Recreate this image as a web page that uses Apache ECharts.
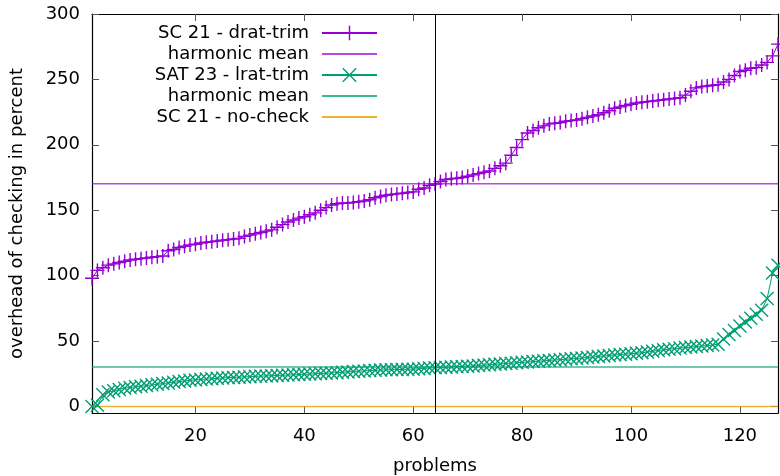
<!DOCTYPE html>
<html><head><meta charset="utf-8">
<script src="https://cdn.jsdelivr.net/npm/echarts@6/dist/echarts.min.js"></script>
<style>html,body{margin:0;padding:0;background:#fff}#c{width:780px;height:476px}</style>
</head><body><div id="c"></div>
<script>
// ---- data ----
const dratTrim = [
 98,104,106,108,109,110,111,112,112.5,113,113.5,114,114.5,115,119,120,121.5,122.5,123.5,124,
 125,125.5,126,126.5,127,127.5,128,128.5,130,131,132,133,134,135,137,139,141,142.5,144,145,
 146.5,148,150,152,154,155,155.5,155.5,156,156.5,157,158,159.5,160.5,161.5,162,162.5,163,163.5,164,
 166,167,169,170,172,173.5,174,174.5,175,176,177,178,179,180,182,184,186,192,198,204,
 209,211,213,214.5,216,216.5,217,218,218.5,219,220,221,222,223,224.5,226,228,229,230,231,
 232,232.5,233,233.5,234,234.5,235,235.5,236,238,241,243.5,244.5,245,245.5,246,248,250,253,256,
 257,258.5,259,261,263,268,277
];
const lratTrim = [
 0,1,9,11,12,13,14,14.5,15,15.5,16,16.5,17,17.5,18,18.5,19,19.5,20,20.3,
 20.6,20.9,21.2,21.5,21.8,22,22.2,22.4,22.6,22.8,23,23.2,23.3,23.5,23.7,23.9,24,24.2,24.4,24.6,
 24.8,25,25.2,25.4,25.6,25.8,26.1,26.4,26.7,27,27.2,27.4,27.6,27.8,28,28.1,28.2,28.3,28.4,28.5,
 28.8,29.1,29.4,29.6,29.8,30,30.2,30.4,30.6,30.8,31,31.3,31.6,31.9,32.2,32.5,32.8,33.1,33.4,33.7,
 34,34.3,34.6,34.9,35.2,35.5,35.8,36.1,36.4,36.7,37,37.4,37.8,38.2,38.6,39,39.4,39.7,40,40.3,
 40.7,41.1,41.6,42.2,42.8,43.3,43.8,44.2,44.6,45,45.4,45.8,46.2,46.6,47,47.6,51.5,55,58,61.5,
 64.5,67.5,70.5,73.5,82.5,102,108
];
const hmDrat = 170.2;
const hmLrat = 30.2;
const noCheckX = [1, 127];
const noCheckY = [0, 0];
const medianX = 64;
const xTicks = [20, 40, 60, 80, 100, 120];
const yTicks = [0, 50, 100, 150, 200, 250, 300];
const names = ['SC 21 - drat-trim', 'harmonic mean', 'SAT 23 - lrat-trim', 'harmonic mean', 'SC 21 - no-check'];

// ---- chart ----
const FONT = 'DejaVu Sans';
const FS = 18;
const PURPLE = '#9400d3', GREEN = '#009e73';
const PLUS = 'path://M-1,-10 L1,-10 L1,10 L-1,10 Z M-10,-1 L10,-1 L10,1 L-10,1 Z';
const CROSS = 'path://M-10,-8.6 L-8.6,-10 L10,8.6 L8.6,10 Z M8.6,-10 L10,-8.6 L-8.6,10 L-10,8.6 Z';
const toXY = arr => arr.map((v, i) => [i + 1, v]);

const baseX = {type:'value', min:1, max:127, splitLine:{show:false},
  axisLine:{show:true, onZero:false, lineStyle:{color:'#000', width:1.2}},
  axisTick:{show:true, inside:true, length:7, customValues:xTicks, lineStyle:{color:'#555', width:1}}};
const baseY = {type:'value', min:-5, max:300, splitLine:{show:false},
  axisLine:{show:true, onZero:false, lineStyle:{color:'#000', width:1.2}},
  axisTick:{show:true, inside:true, length:7, customValues:yTicks, lineStyle:{color:'#555', width:1}}};

const legendCenters = [33, 54, 75, 96, 117];
const hasMarker = [true, false, true, false, false];
const legends = names.map((n, k) => {
  const lg = {
    data:[{name:'s' + k}], right:402, top:legendCenters[k] - 9, orient:'vertical', align:'right',
    itemWidth:55, itemHeight:18, padding:0, selectedMode:false,
    formatter:() => n,
    textStyle:{fontFamily:FONT, fontSize:FS, color:'#000', padding:[0,8,0,0]}
  };
  if (!hasMarker[k]) lg.itemStyle = {opacity:0};
  return lg;
});

const chart = echarts.init(document.getElementById('c'), null, {renderer:'canvas'});
chart.setOption({
  animation:false,
  backgroundColor:'#fff',
  grid:{left:92, right:2, top:14, bottom:63, containLabel:false, outerBoundsMode:'none'},
  legend:legends,
  xAxis:[
    Object.assign({}, baseX, {position:'bottom',
      axisLabel:{customValues:xTicks, fontFamily:FONT, fontSize:FS, color:'#000', margin:14},
      name:'problems', nameLocation:'middle', nameGap:44,
      nameTextStyle:{fontFamily:FONT, fontSize:FS, color:'#000'}}),
    Object.assign({}, baseX, {position:'top', axisLabel:{show:false}})
  ],
  yAxis:[
    Object.assign({}, baseY, {position:'left',
      axisLabel:{customValues:yTicks, fontFamily:FONT, fontSize:FS, color:'#000', margin:12},
      name:'overhead of checking in percent', nameLocation:'middle', nameGap:66, nameRotate:90,
      nameTextStyle:{fontFamily:FONT, fontSize:FS, color:'#000'}}),
    Object.assign({}, baseY, {position:'right', axisLabel:{show:false}})
  ],
  series:[
    {name:'s0', type:'line', data:toXY(dratTrim), symbol:PLUS, symbolSize:14, showAllSymbol:true,
     color:PURPLE, lineStyle:{color:PURPLE, width:1}, itemStyle:{color:PURPLE}, emphasis:{disabled:true}, z:3},
    {name:'s1', type:'line', data:[[1, hmDrat], [127, hmDrat]], symbol:'none',
     color:'rgba(148,0,211,0.7)', lineStyle:{color:'rgba(148,0,211,0.7)', width:1.6}, emphasis:{disabled:true}, z:2},
    {name:'s2', type:'line', data:toXY(lratTrim), symbol:CROSS, symbolSize:14, showAllSymbol:true,
     color:GREEN, lineStyle:{color:GREEN, width:1}, itemStyle:{color:GREEN}, emphasis:{disabled:true}, z:3},
    {name:'s3', type:'line', data:[[1, hmLrat], [127, hmLrat]], symbol:'none',
     color:'rgba(0,158,115,0.75)', lineStyle:{color:'rgba(0,158,115,0.75)', width:1.6}, emphasis:{disabled:true}, z:2},
    {name:'s4', type:'line', data:noCheckX.map((x, i) => [x, noCheckY[i]]), symbol:'none',
     color:'rgba(230,159,0,0.8)', lineStyle:{color:'rgba(230,159,0,0.8)', width:1.6}, emphasis:{disabled:true}, z:2,
     markLine:{silent:true, symbol:'none', label:{show:false}, animation:false,
       lineStyle:{color:'#000', width:1, type:'solid'}, data:[{xAxis:medianX}]}}
  ]
});
</script>
</body></html>
